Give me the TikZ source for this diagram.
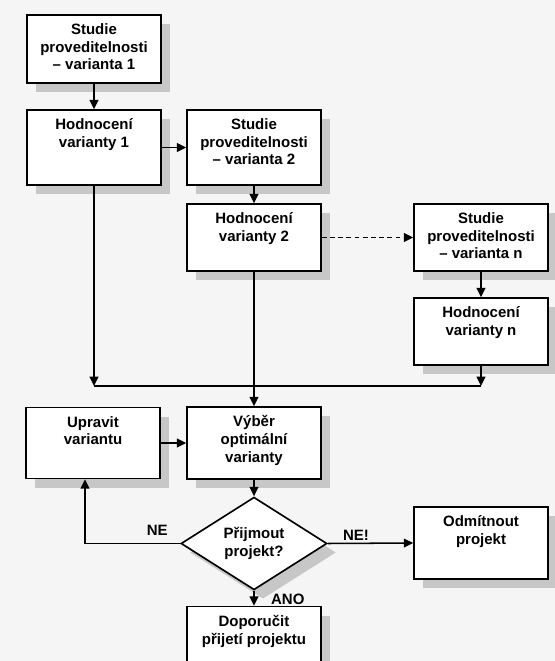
\documentclass[tikz,border=0pt]{standalone}
\usepackage{fontspec}
\setmainfont{Liberation Sans}
\usetikzlibrary{arrows.meta,shapes.geometric,shadows}

\begin{document}
\begin{tikzpicture}[x=0.03cm, y=-0.03cm,
  font=\fontsize{12.8}{15}\selectfont\bfseries,
  box/.style={draw, line width=1.4pt, fill=white, minimum width=4.02cm, inner sep=0pt,
    drop shadow={shadow xshift=0.27cm, shadow yshift=-0.27cm, fill=black!22, opacity=1}},
  txt/.style={anchor=north, align=center, inner sep=0pt, yshift=-8pt},
  arr/.style={line width=1.3pt, -{Triangle[length=8pt,width=7.5pt]}},
  lbl/.style={inner sep=2pt}]
  \useasboundingbox (0,0) rectangle (555,661);
  \clip (0,0) rectangle (555,661);
  \fill[black!4] (0,0) rectangle (555,661);

  % Studies and evaluations of the variants
  \node[box, minimum height=2.04cm, label={[txt]north:Studie\\proveditelnosti\\– varianta 1}] (s1) at (94,49) {};
  \node[box, minimum height=2.25cm, label={[txt]north:Hodnocení\\varianty 1}] (h1) at (94,147.5) {};
  \node[box, minimum height=2.25cm, label={[txt]north:Studie\\proveditelnosti\\– varianta 2}] (s2) at (254,147.5) {};
  \node[box, minimum height=2.01cm, label={[txt]north:Hodnocení\\varianty 2}] (h2) at (254,237.5) {};
  \node[box, minimum height=2.01cm, label={[txt]north:Studie\\proveditelnosti\\– varianta n}] (sn) at (481,237.5) {};
  \node[box, minimum height=2.01cm, label={[txt]north:Hodnocení\\varianty n}] (hn) at (481,331.5) {};

  % Choice and decision
  \node[box, minimum height=2.13cm, label={[txt]north:Upravit\\variantu}] (up) at (93,443) {};
  \node[box, minimum height=2.16cm, label={[txt]north:Výběr\\optimální\\varianty}] (vy) at (254,443) {};
  \node[draw, line width=1.4pt, fill=white, diamond, minimum width=4.38cm, minimum height=2.13cm,
    inner sep=0pt, align=center,
    drop shadow={shadow xshift=0.27cm, shadow yshift=-0.27cm, fill=black!22, opacity=1}] (dia) at (254,543.5) {Přijmout\\projekt?};
  \node[box, minimum height=2.16cm, label={[txt]north:Odmítnout\\projekt}] (od) at (481,543) {};
  \node[box, minimum height=2.13cm, label={[txt]north:Doporučit\\přijetí projektu}] (dop) at (254,642) {};

  % Arrows between the boxes
  \foreach \a/\b in {s1/h1,s2/h2,sn/hn,h2/vy,vy/dia}
    \draw[arr] (\a.south) -- (\b.north);
  \foreach \a/\b in {h1/s2,up/vy}
    \draw[arr] (\a.east) -- (\b.west);
  \draw[arr, dash pattern=on 4pt off 3pt] (h2.east) -- (sn.west);

  % Joining line
  \coordinate (jl) at (h1.south |- 0,386);
  \coordinate (jr) at (hn.south |- 0,386);
  \draw[arr] (h1.south) -- (jl);
  \draw[arr] (hn.south) -- (jr);
  \draw[line width=1.3pt] (jl) -- (jr);

  % Answers
  \draw[arr] (dia.west) -| node[lbl, pos=0.12, above=4pt] (ne) {NE} ([xshift=-0.24cm]up.south);
  \draw[arr] (dia.east) -- node[lbl, pos=0.33, above] (ne2) {NE!} (od.west);
  \draw[arr] (dia.south) -- node[lbl, pos=0.55, right=12pt] (ano) {ANO} (dop.north);
\end{tikzpicture}
\end{document}
